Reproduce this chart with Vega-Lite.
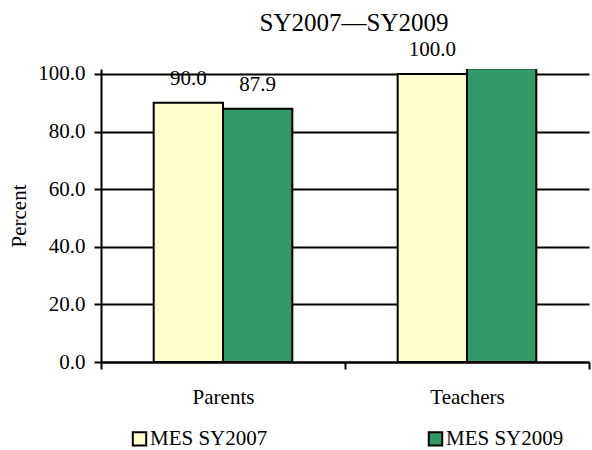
{
  "$schema": "https://vega.github.io/schema/vega-lite/v6.json",
  "width": 488,
  "height": 293,
  "autosize": {"type": "none"},
  "padding": {"left": 101, "top": 69, "right": 3, "bottom": 88},
  "background": "white",
  "title": {"text": "SY2007—SY2009", "font": "Liberation Serif, Times New Roman, serif", "fontSize": 25, "fontWeight": "normal", "color": "black", "offset": 3, "anchor": "middle", "frame": "group", "dx": 9},
  "data": {"values": [
    {"group": "Parents", "series": "MES SY2007", "value": 90.0},
    {"group": "Parents", "series": "MES SY2009", "value": 87.9},
    {"group": "Teachers", "series": "MES SY2007", "value": 100.0},
    {"group": "Teachers", "series": "MES SY2009", "value": 102.0}
  ]},
  "config": {
    "view": {"stroke": null},
    "font": "Liberation Serif, Times New Roman, serif",
    "axis": {"labelFont": "Liberation Serif, Times New Roman, serif", "titleFont": "Liberation Serif, Times New Roman, serif", "labelColor": "black", "titleColor": "black", "domainColor": "black", "tickColor": "black", "gridColor": "black", "gridOpacity": 1, "domainWidth": 2, "tickWidth": 2, "gridWidth": 2},
    "legend": {"labelFont": "Liberation Serif, Times New Roman, serif", "labelColor": "black"},
    "text": {"font": "Liberation Serif, Times New Roman, serif"}
  },
  "encoding": {
    "x": {"field": "group", "type": "nominal", "sort": ["Parents", "Teachers"],
      "scale": {"paddingInner": 0, "paddingOuter": 0},
      "axis": {"title": null, "labelAngle": 0, "labelFontSize": 21, "tickBand": "extent", "tickSize": 7, "labelPadding": 17, "grid": false}},
    "xOffset": {"field": "series", "type": "nominal", "scale": {"paddingInner": 0, "paddingOuter": 0.76}},
    "y": {"field": "value", "type": "quantitative",
      "scale": {"domain": [0, 101.7], "nice": false},
      "axis": {"title": "Percent", "titleFontSize": 21, "titleFontWeight": "normal", "titlePadding": 8, "labelFontSize": 21, "format": ".1f", "values": [0, 20, 40, 60, 80, 100], "tickSize": 7, "labelPadding": 9, "grid": true}}
  },
  "layer": [
    {
      "mark": {"type": "bar", "stroke": "black", "strokeWidth": 2, "clip": true},
      "encoding": {
        "color": {"field": "series", "type": "nominal",
          "scale": {"domain": ["MES SY2007", "MES SY2009"], "range": ["#FFFFCC", "#339966"]},
          "legend": {"title": null, "orient": "none", "legendX": 28, "legendY": 359, "direction": "horizontal", "symbolType": "square", "symbolSize": 180, "symbolStrokeColor": "black", "symbolStrokeWidth": 2, "symbolOpacity": 1, "labelFontSize": 21, "labelOffset": 0, "labelLimit": 200, "columnPadding": 156}}
      }
    },
    {
      "transform": [{"filter": "datum.value <= 100"}],
      "mark": {"type": "text", "baseline": "alphabetic", "dy": -18, "fontSize": 21, "color": "black"},
      "encoding": {"text": {"field": "value", "type": "quantitative", "format": ".1f"}}
    }
  ]
}
